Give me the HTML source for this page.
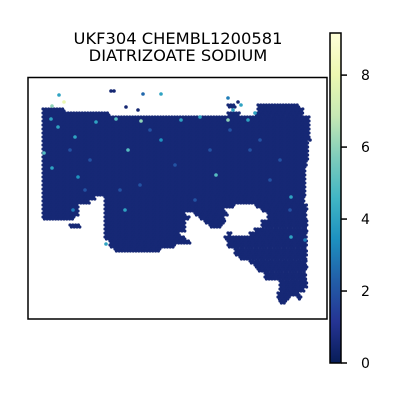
<!DOCTYPE html>
<html><head><meta charset="utf-8"><style>
html,body{margin:0;padding:0;background:#fff;}
svg{display:block;font-family:"DejaVu Sans","Liberation Sans",sans-serif;}
</style></head><body>
<svg id="chart" width="400" height="400" viewBox="0 0 400 400">
<defs>
<linearGradient id="cmap" x1="0" y1="1" x2="0" y2="0">
<stop offset="0" stop-color="#081d58"/><stop offset="0.125" stop-color="#253494"/><stop offset="0.25" stop-color="#225ea8"/><stop offset="0.375" stop-color="#1d91c0"/><stop offset="0.5" stop-color="#41b6c4"/><stop offset="0.625" stop-color="#7fcdbb"/><stop offset="0.75" stop-color="#c7e9b4"/><stop offset="0.875" stop-color="#edf8b1"/><stop offset="1" stop-color="#ffffd9"/>
</linearGradient>
</defs>
<text x="178" y="44" text-anchor="middle" font-size="16.3" fill="#000">UKF304 CHEMBL1200581</text>
<text x="178" y="61" text-anchor="middle" font-size="16.3" fill="#000">DIATRIZOATE SODIUM</text>
<g id="spots"></g>
<rect x="28" y="77.5" width="299" height="241.5" fill="none" stroke="#000" stroke-width="1.5"/>
<rect x="330" y="33" width="11" height="330" fill="url(#cmap)" stroke="#000" stroke-width="1.5"/>
<g id="cbticks"></g>
</svg>
<script>
// row segments of tissue outline: [y, x0, x1, x0, x1, ...]
const rowY = [105,109,113,117,121,125,129,133,137,141,145,149,153,157,161,165,169,173,177,181,185,189,193,197,201,205,209,213,217,221,225,229,233,237,241,245,249,253,257,261,265,269,273,277,281,285,289,293,297,301];
const rowSegs = [
 [228,236,258,300],[43,65,258,303],[43,110,228,240,255,303],[43,310],[43,310],[43,310],[43,310],[43,310],[43,310],[43,308],[43,308],[43,308],[43,308],[43,308],[43,307],[43,307],[43,306],[43,306],[43,306],[43,305],[43,305],[43,305],[43,305],
 [43,95,105,305],[43,90,105,305],[43,78,105,234,256,307],[43,78,105,225,262,307],[43,78,105,185,195,228,268,307],[43,75,105,190,200,225,268,307],[105,185,205,225,262,307],[70,80,105,185,210,222,262,307],[105,185,255,307],[105,180,228,232,250,307],[105,185,225,307],[110,190,228,307],[110,175,228,307],[115,160,235,307],[235,307],[240,307],[250,307],[255,307],[258,307],[265,307],[265,307],[280,307],[280,307],[280,305],[278,300],[278,290,298,302],[280,286]
];
const baseValue = 0.55;
// bright / isolated spots: x, y, value
const spotX = [59,64,52,143,161,228,241,233,116,141,228,51,44,52,128,216,291,125,106,255,73,75,96,181,200,248,58,78,161,291,305,111,114,126,138,238,310,70,90,150,175,210,260,280,120,140,230,270,290,85,195,250];
const spotY = [95,102,106,94,94,98,105,110,119,121,120,119,153,168,150,175,197,210,244,113,210,137,122,120,117,120,127,177,140,237,240,91,91,107,110,102,140,150,160,130,165,150,140,160,190,185,130,180,210,190,200,150];
const spotV = [4,8,6,2.5,4,3,4,4,5,6,6,4,5,4,5,5,4,4,4,4,3,4,4,4,4,4,4,3.5,3.5,4,3,0.5,0.5,0.5,0.5,0.5,0.5,2,2,2,2,2,2,2,2,2,2,2,2,2,2,2];
const cbTicks = [0,2,4,6,8];

const stops = ["#081d58","#253494","#225ea8","#1d91c0","#41b6c4","#7fcdbb","#c7e9b4","#edf8b1","#ffffd9"];
const vmax = 9.17;
function hex(c){return [parseInt(c.slice(1,3),16),parseInt(c.slice(3,5),16),parseInt(c.slice(5,7),16)];}
function color(v){
  let t=Math.max(0,Math.min(1,v/vmax))*(stops.length-1);
  let i=Math.min(Math.floor(t),stops.length-2), f=t-i;
  let a=hex(stops[i]), b=hex(stops[i+1]);
  return "rgb("+a.map((x,k)=>Math.round(x+(b[k]-x)*f)).join(",")+")";
}
function cbY(v){return 363 - v*(330/vmax);}
const NS="http://www.w3.org/2000/svg";
const g=document.getElementById("spots");
const step=2.8;
rowY.forEach((y,ri)=>{
  const seg=rowSegs[ri];
  for(let sub=0;sub<2;sub++){
    const yy=y+sub*2;
    const off=sub*step/2;
    for(let s=0;s<seg.length;s+=2){
      for(let x=seg[s]+off;x<=seg[s+1];x+=step){
        const c=document.createElementNS(NS,"circle");
        c.setAttribute("cx",x.toFixed(1));c.setAttribute("cy",yy);c.setAttribute("r","1.6");
        c.setAttribute("fill",color(baseValue));
        
        
        g.appendChild(c);
      }
    }
  }
});
spotX.forEach((x,i)=>{
  const c=document.createElementNS(NS,"circle");
  c.setAttribute("cx",x);c.setAttribute("cy",spotY[i]);c.setAttribute("r","1.8");
  c.setAttribute("fill",color(spotV[i]));
  
  
  g.appendChild(c);
});
const tg=document.getElementById("cbticks");
cbTicks.forEach(v=>{
  const y=cbY(v);
  const l=document.createElementNS(NS,"line");
  l.setAttribute("x1",341);l.setAttribute("x2",347);l.setAttribute("y1",y);l.setAttribute("y2",y);
  l.setAttribute("stroke","#000");l.setAttribute("stroke-width","1.5");
  
  
  tg.appendChild(l);
  const t=document.createElementNS(NS,"text");
  t.setAttribute("x",361);t.setAttribute("y",y+5);t.setAttribute("font-size","14");
  t.textContent=v;
  
  
  tg.appendChild(t);
});
</script>
</body></html>
